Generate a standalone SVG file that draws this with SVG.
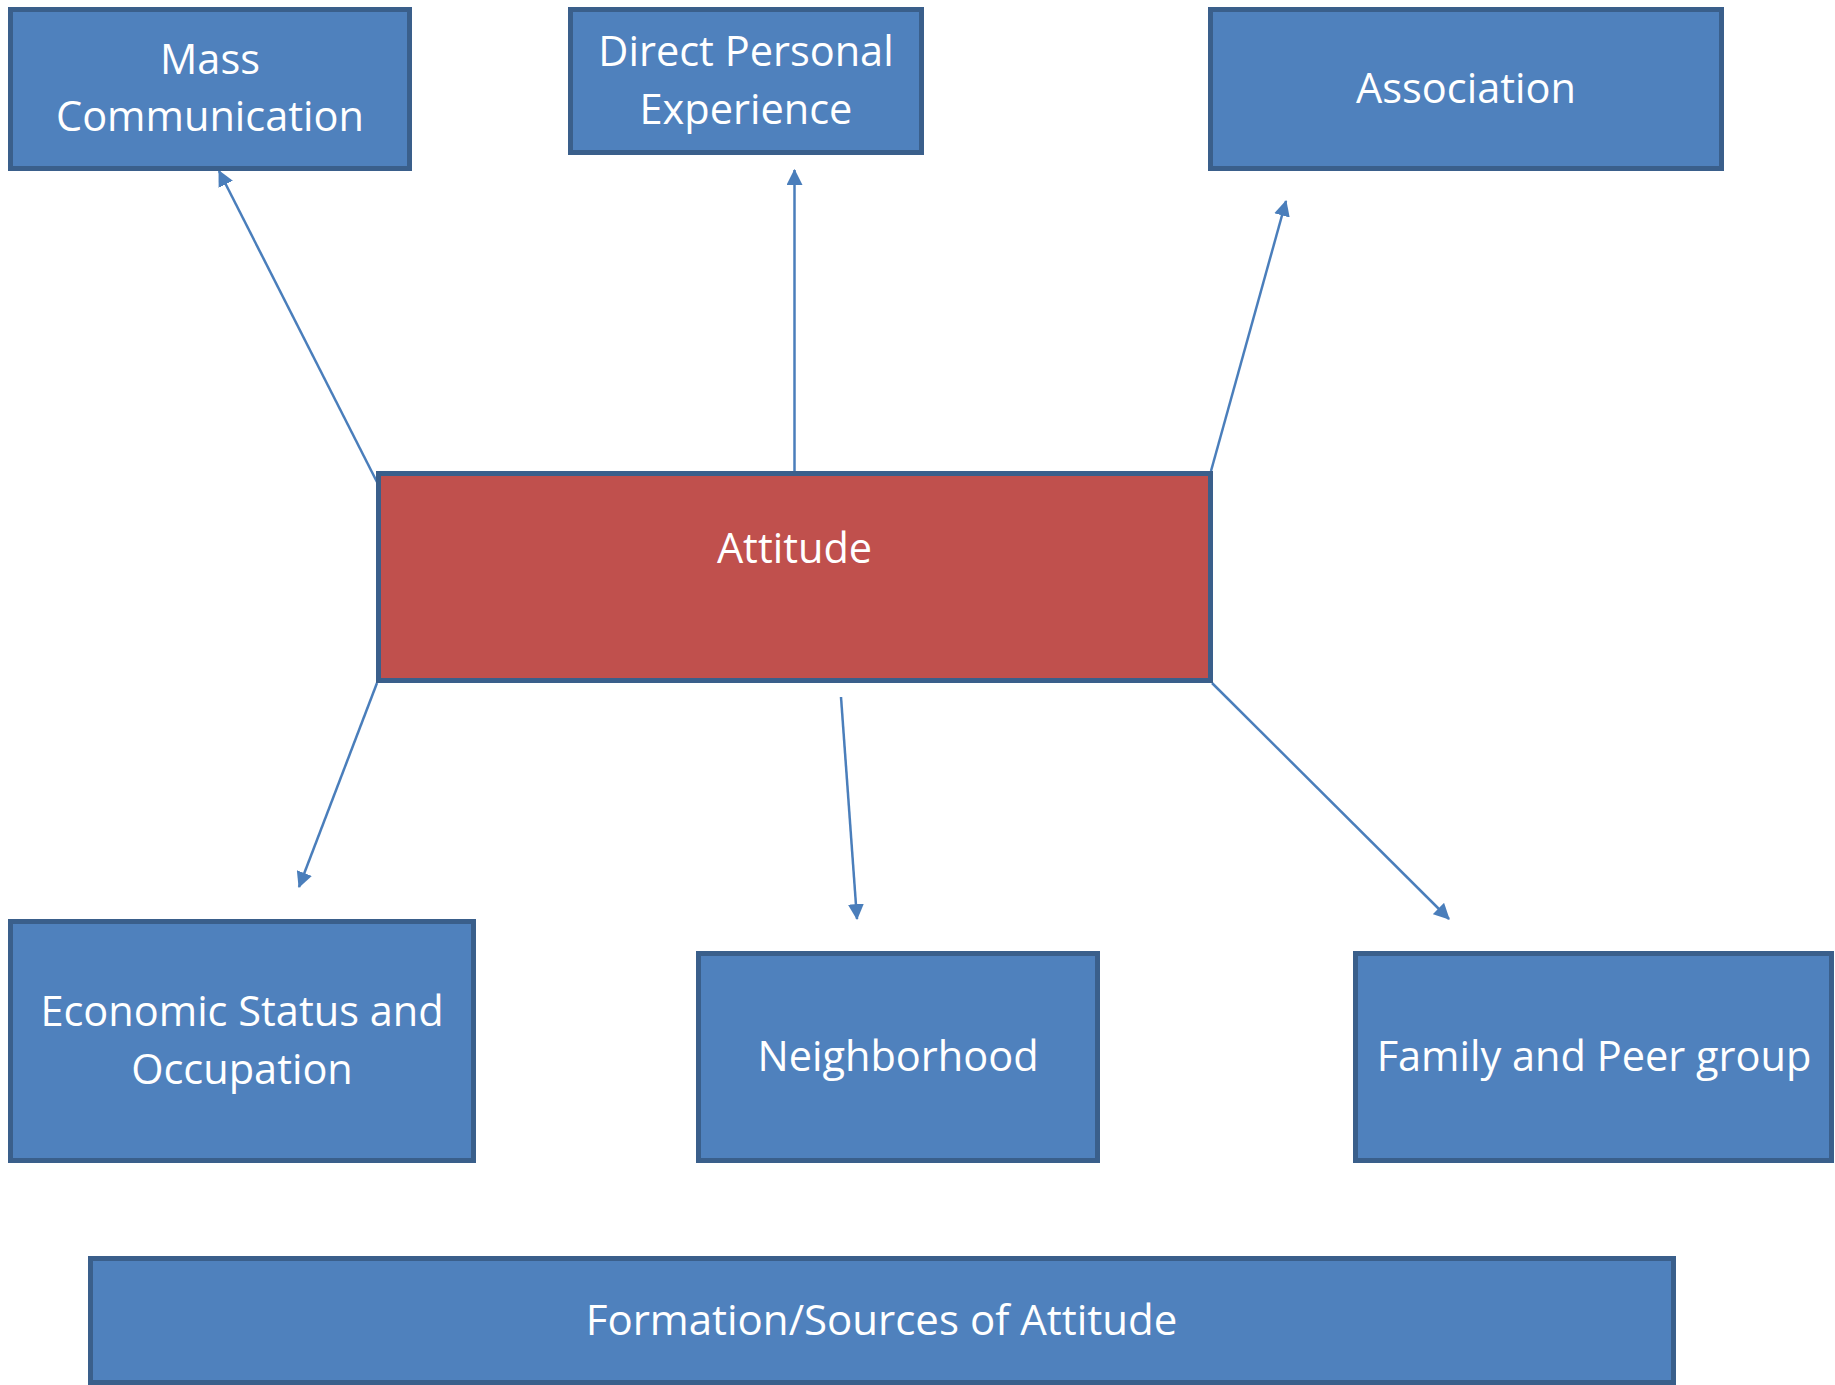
<svg xmlns="http://www.w3.org/2000/svg" width="1835" height="1385" viewBox="0 0 1835 1385">
<style>
.box{fill:#4F81BD;stroke:#3A5F8B;stroke-width:5}
.red{fill:#C0504D;stroke:#3A5F8B;stroke-width:5}
.t{font-family:"Open Sans","Liberation Sans",sans-serif;font-size:41.5px;fill:#FFFFFF;text-anchor:middle}
.c{stroke:#4A7EBB;stroke-width:2.5;fill:none;marker-end:url(#ah)}
</style>
<defs>
<marker id="ah" markerUnits="userSpaceOnUse" markerWidth="16" markerHeight="16" viewBox="0 0 15 15" refX="14" refY="7.5" orient="auto">
<path d="M0,0 L15,7.5 L0,15 z" fill="#4A7EBB"/>
</marker>
</defs>
<rect width="1835" height="1385" fill="#FFFFFF"/>
<g id="connectors">
<line class="c" x1="377" y1="482" x2="219" y2="171"/>
<line class="c" x1="794.5" y1="471" x2="794.5" y2="170"/>
<line class="c" x1="1211" y1="471" x2="1286" y2="201"/>
<line class="c" x1="377" y1="683" x2="299" y2="887"/>
<line class="c" x1="841" y1="697" x2="857" y2="919"/>
<line class="c" x1="1212" y1="683" x2="1449" y2="919"/>
</g>
<g id="mass-communication">
<rect class="box" x="10.5" y="9.5" width="399" height="159"/>
<text class="t" x="210" y="74">Mass</text>
<text class="t" x="210" y="131">Communication</text>
</g>
<g id="direct-personal-experience">
<rect class="box" x="570.5" y="9.5" width="351" height="143"/>
<text class="t" x="746" y="66">Direct Personal</text>
<text class="t" x="746" y="124">Experience</text>
</g>
<g id="association">
<rect class="box" x="1210.5" y="9.5" width="511" height="159"/>
<text class="t" x="1466" y="103">Association</text>
</g>
<g id="attitude">
<rect class="red" x="378.5" y="473.5" width="832" height="207"/>
<text class="t" x="794.5" y="563">Attitude</text>
</g>
<g id="economic-status">
<rect class="box" x="10.5" y="921.5" width="463" height="239"/>
<text class="t" x="242" y="1026">Economic Status and</text>
<text class="t" x="242" y="1084">Occupation</text>
</g>
<g id="neighborhood">
<rect class="box" x="698.5" y="953.5" width="399" height="207"/>
<text class="t" x="898" y="1071">Neighborhood</text>
</g>
<g id="family-peer">
<rect class="box" x="1355.5" y="953.5" width="476" height="207"/>
<text class="t" x="1594" y="1071">Family and Peer group</text>
</g>
<g id="formation">
<rect class="box" x="90.5" y="1258.5" width="1583" height="124"/>
<text class="t" x="881.5" y="1335" style="font-size:42px">Formation/Sources of Attitude</text>
</g>
</svg>
